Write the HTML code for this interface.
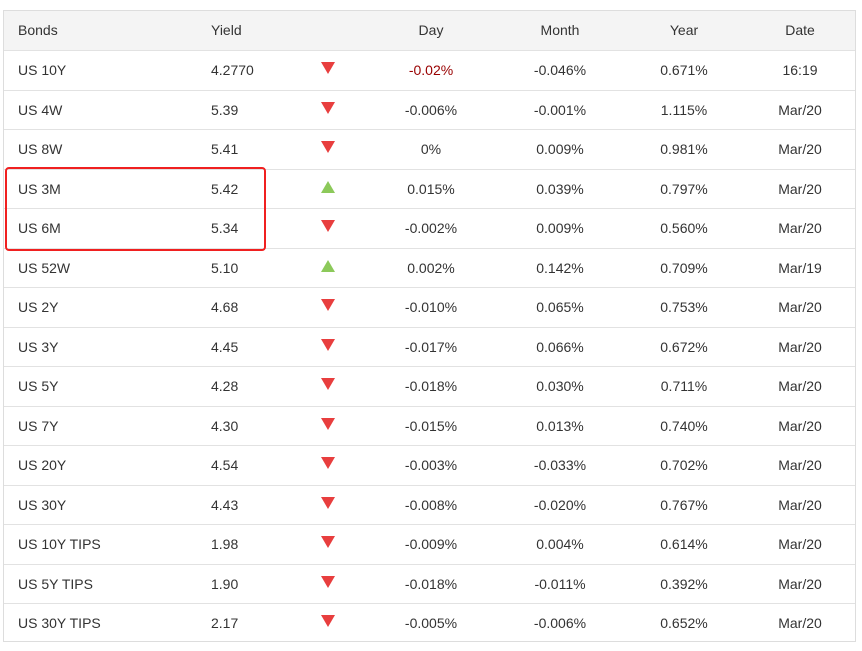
<!DOCTYPE html>
<html><head><style>
body{margin:0;width:862px;height:651px;background:#fff;font-family:"Liberation Sans",sans-serif;font-size:14px;color:#333;position:relative;overflow:hidden}
.tbl{position:absolute;left:3px;top:10px;width:853px;height:632px;border:1px solid #ddd;box-sizing:border-box}
.hdr{position:absolute;left:4px;top:11px;width:851px;height:39px;background:#f4f4f4}
.line{position:absolute;left:4px;width:851px;height:1px;background:#e2e2e2}
.t{position:absolute;white-space:nowrap;line-height:16px}
.c{transform:translateX(-50%)}
.dn{position:absolute;width:0;height:0;border-left:7px solid transparent;border-right:7px solid transparent;border-top:12px solid #e83e3e}
.up{position:absolute;width:0;height:0;border-left:7px solid transparent;border-right:7px solid transparent;border-bottom:12px solid #8cc95a}
.box{position:absolute;left:5px;top:167px;width:261px;height:84px;border:2px solid #f02020;border-radius:4px;box-sizing:border-box}
</style></head><body>
<div class="hdr"></div>
<div class="tbl"></div>
<div id="c"></div>
<div class="box"></div>
<script>
const rows=[
["US 10Y","4.2770",0,"-0.02%","-0.046%","0.671%","16:19"],
["US 4W","5.39",0,"-0.006%","-0.001%","1.115%","Mar/20"],
["US 8W","5.41",0,"0%","0.009%","0.981%","Mar/20"],
["US 3M","5.42",1,"0.015%","0.039%","0.797%","Mar/20"],
["US 6M","5.34",0,"-0.002%","0.009%","0.560%","Mar/20"],
["US 52W","5.10",1,"0.002%","0.142%","0.709%","Mar/19"],
["US 2Y","4.68",0,"-0.010%","0.065%","0.753%","Mar/20"],
["US 3Y","4.45",0,"-0.017%","0.066%","0.672%","Mar/20"],
["US 5Y","4.28",0,"-0.018%","0.030%","0.711%","Mar/20"],
["US 7Y","4.30",0,"-0.015%","0.013%","0.740%","Mar/20"],
["US 20Y","4.54",0,"-0.003%","-0.033%","0.702%","Mar/20"],
["US 30Y","4.43",0,"-0.008%","-0.020%","0.767%","Mar/20"],
["US 10Y TIPS","1.98",0,"-0.009%","0.004%","0.614%","Mar/20"],
["US 5Y TIPS","1.90",0,"-0.018%","-0.011%","0.392%","Mar/20"],
["US 30Y TIPS","2.17",0,"-0.005%","-0.006%","0.652%","Mar/20"]];
let h='';
h+=`<div class="t" style="left:18px;top:22px">Bonds</div><div class="t" style="left:211px;top:22px">Yield</div>`;
[["Day",431],["Month",560],["Year",684],["Date",800]].forEach(a=>h+=`<div class="t c" style="left:${a[1]}px;top:22px">${a[0]}</div>`);
rows.forEach((r,i)=>{
 const y=50+i*39.5;
 h+=`<div class="line" style="top:${Math.round(y)}px"></div>`;
 const ty=Math.round(y+12);
 h+=`<div class="t" style="left:18px;top:${ty}px">${r[0]}</div><div class="t" style="left:211px;top:${ty}px">${r[1]}</div>`;
 h+=`<div class="${r[2]?'up':'dn'}" style="left:321px;top:${Math.round(y+12)}px"></div>`;
 h+=`<div class="t c" style="left:431px;top:${ty}px;${i==0?'color:#990000':''}">${r[3]}</div>`;
 h+=`<div class="t c" style="left:560px;top:${ty}px">${r[4]}</div><div class="t c" style="left:684px;top:${ty}px">${r[5]}</div><div class="t c" style="left:800px;top:${ty}px">${r[6]}</div>`;
});
document.getElementById('c').innerHTML=h;
</script>
</body></html>
